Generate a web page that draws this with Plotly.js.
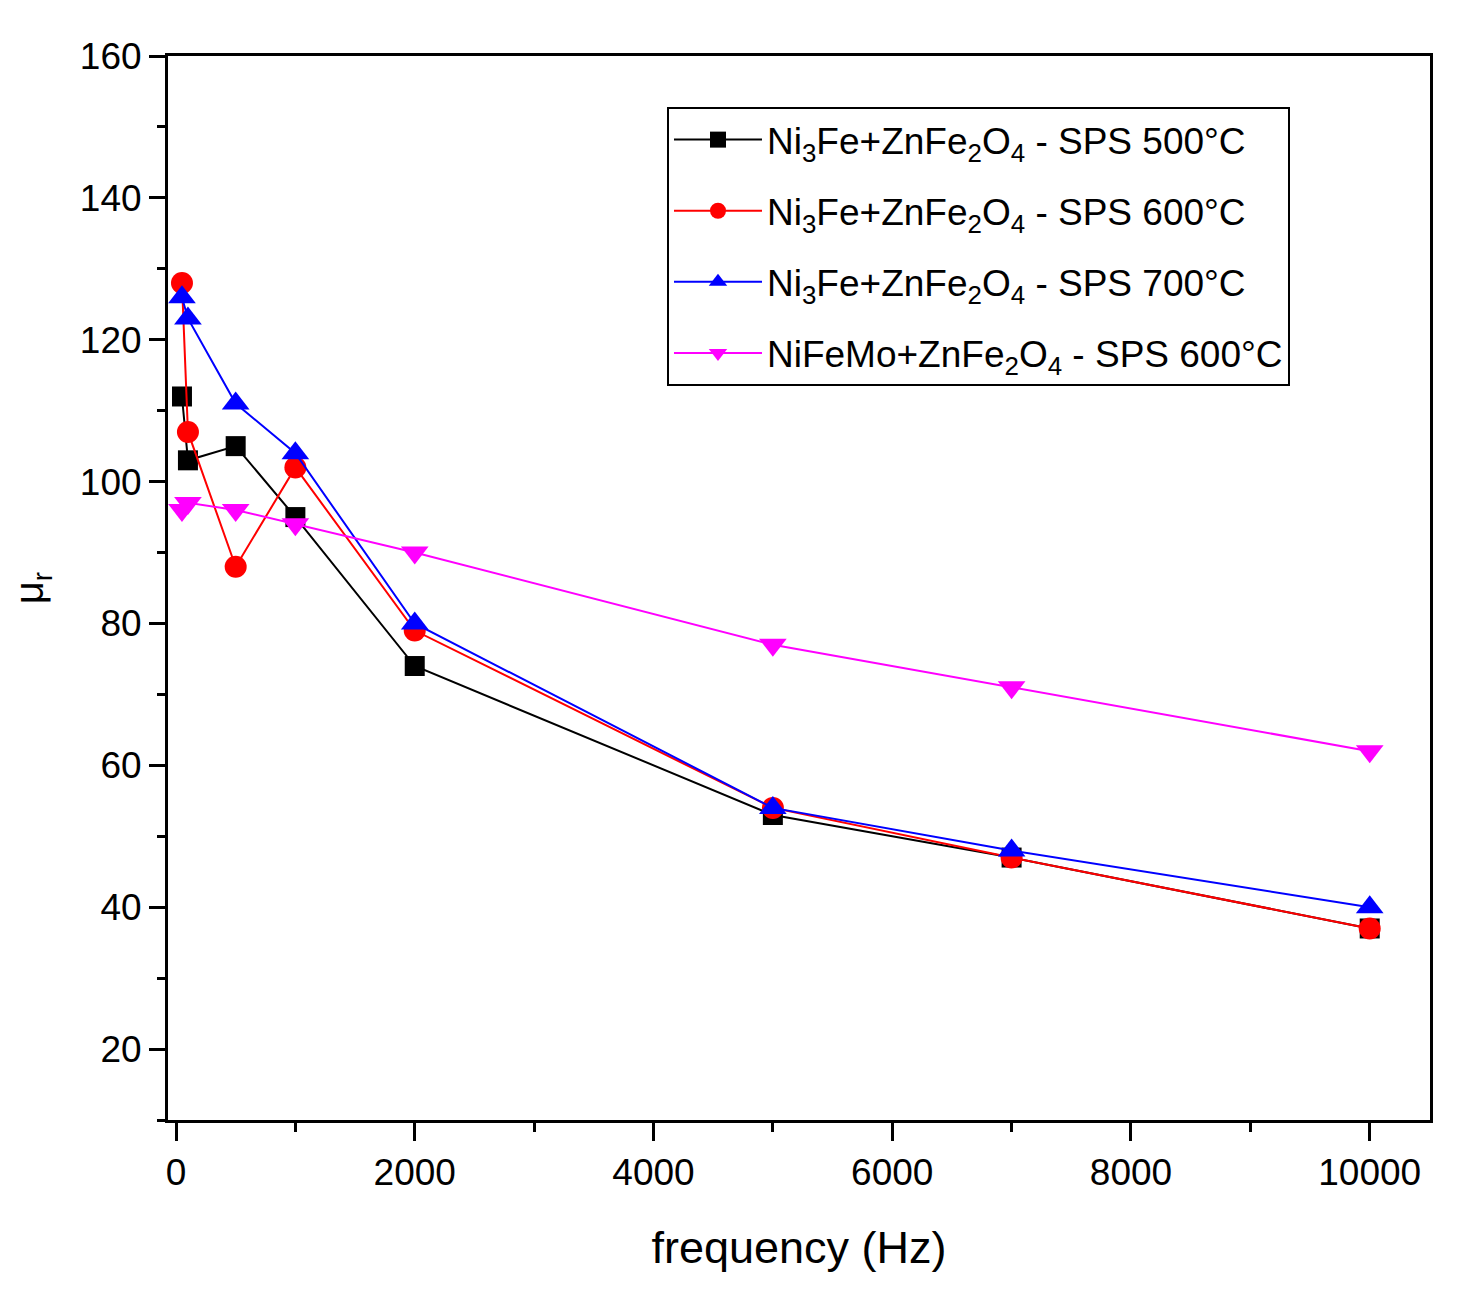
<!DOCTYPE html>
<html>
<head>
<meta charset="utf-8">
<script src="https://cdn.plot.ly/plotly-3.0.1.min.js"></script>
<style>html,body{margin:0;padding:0;background:#fff;}#chart{width:1484px;height:1299px;}</style>
</head>
<body>
<div id="chart"></div>
<script>
// Data
const freqLow = [50, 100, 500, 1000, 2000, 5000, 7000, 10000];
const sps500 = [112, 103, 105, 95, 74, 53, 47, 37];
const sps600 = [128, 107, 88, 102, 79, 54, 47, 37];
const sps700 = [126, 123, 111, 104, 80, 54, 48, 40];
const nifemo600 = [96, 97, 96, 94, 90, 77, 71, 62];

const seriesNames = [
  "Ni<sub>3</sub>Fe+ZnFe<sub>2</sub>O<sub>4</sub> - SPS 500°C",
  "Ni<sub>3</sub>Fe+ZnFe<sub>2</sub>O<sub>4</sub> - SPS 600°C",
  "Ni<sub>3</sub>Fe+ZnFe<sub>2</sub>O<sub>4</sub> - SPS 700°C",
  "NiFeMo+ZnFe<sub>2</sub>O<sub>4</sub> - SPS 600°C"
];
const seriesValues = [sps500, sps600, sps700, nifemo600];
const colors = ["#000000", "#ff0000", "#0000ff", "#ff00ff"];
const symbols = ["square", "circle", "triangle-up", "triangle-down"];
const sizes = [20, 22, 24, 24];

const traces = seriesValues.map((vals, i) => ({
  x: freqLow,
  y: vals,
  name: seriesNames[i],
  legendgroup: "g" + i,
  type: "scatter",
  mode: "lines+markers",
  line: {color: colors[i], width: 2},
  marker: {color: colors[i], symbol: symbols[i], size: sizes[i]}
}));

const fam = "Liberation Sans, Arial, sans-serif";
const axisFont = {family: fam, size: 37, color: "#000"};

const layout = {
  width: 1484,
  height: 1299,
  margin: {l: 168, r: 54, t: 56, b: 179},
  paper_bgcolor: "#fff",
  plot_bgcolor: "#fff",
  showlegend: true,
  font: {family: fam, color: "#000"},
  xaxis: {
    range: [-67, 10505],
    tickmode: "linear", tick0: 0, dtick: 2000,
    tickformat: "d",
    ticks: "outside", ticklen: 18, tickwidth: 3, tickcolor: "#000",
    minor: {dtick: 1000, ticks: "outside", ticklen: 9, tickwidth: 3, tickcolor: "#000"},
    showline: true, linewidth: 3, linecolor: "#000", mirror: true,
    showgrid: false, zeroline: false,
    tickfont: axisFont,
    title: {text: "frequency (Hz)", font: {family: fam, size: 45, color: "#000"}, standoff: 40}
  },
  yaxis: {
    range: [10, 160],
    tickmode: "linear", tick0: 0, dtick: 20,
    ticks: "outside", ticklen: 16, tickwidth: 3, tickcolor: "#000",
    minor: {dtick: 10, ticks: "outside", ticklen: 8, tickwidth: 3, tickcolor: "#000"},
    showline: true, linewidth: 3, linecolor: "#000", mirror: true,
    showgrid: false, zeroline: false,
    tickfont: axisFont,
    title: {text: "μ<sub>r</sub>", font: {family: fam, size: 40, color: "#000"}, standoff: 24}
  },
  legend: {
    x: 0.3954, y: 0.952, xanchor: "left", yanchor: "top",
    bgcolor: "#fff", bordercolor: "#000", borderwidth: 2,
    font: {family: fam, size: 37, color: "#000"},
    itemwidth: 88,
    tracegroupgap: 20
  }
};

Plotly.newPlot("chart", traces, layout, {displayModeBar: false, staticPlot: true});
</script>
</body>
</html>
